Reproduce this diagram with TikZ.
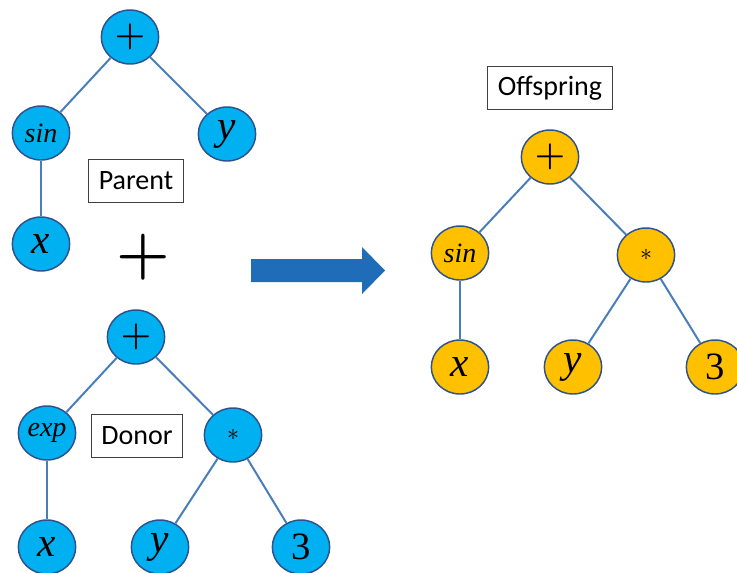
\RequirePackage{fix-cm}
\documentclass[tikz,border=0pt]{standalone}
\usepackage{fontspec}
\setmainfont{Carlito}
\newfontfamily\symfont{Liberation Serif}
\usetikzlibrary{shapes.geometric}
\definecolor{bluefill}{HTML}{00B0F0}
\definecolor{orangefill}{HTML}{FFC000}
\definecolor{rimblue}{HTML}{2F528F}
\definecolor{edgeblue}{HTML}{4A7EBB}
\definecolor{arrowblue}{HTML}{1F6DB8}
\definecolor{boxgray}{HTML}{404040}
\tikzset{
  treenode/.style={ellipse, draw=rimblue, line width=1.1pt, minimum width=43pt,
    minimum height=40.5pt, inner sep=0pt, font=\fontsize{26}{26}\selectfont},
  bluenode/.style={treenode, fill=bluefill},
  orangenode/.style={treenode, fill=orangefill},
  letterlabel/.style={font=\symfont\itshape\fontsize{31}{31}\selectfont},
  digitlabel/.style={font=\symfont\fontsize{29}{29}\selectfont},
  funclabel/.style={font=\symfont\itshape\fontsize{21}{21}\selectfont},
  starlabel/.style={font=\fontsize{18}{18}\selectfont, yshift=-1.5pt},
  treeedge/.style={draw=edgeblue, line width=1.5pt},
  tagbox/.style={draw=boxgray, line width=0.8pt, fill=white, inner xsep=7.5pt,
    minimum height=32pt, font=\fontsize{21}{21}\selectfont},
}
\newcommand{\opplus}{{\boldmath$+$}}
\begin{document}
\begin{tikzpicture}[x=0.75pt, y=-0.75pt]
\useasboundingbox (0,0) rectangle (737,572);

% parent tree
\node[bluenode] (p0) at (130,37) {\opplus};
\node[bluenode, funclabel] (p1) at (41,133) {sin};
\node[bluenode, letterlabel] (p2) at (227,134) {y};
\node[bluenode, letterlabel] (p3) at (41,244) {x};
\draw[treeedge] (p0) -- (p1);
\draw[treeedge] (p0) -- (p2);
\draw[treeedge] (p1) -- (p3);
\node[tagbox] (parent) at (136,181) {Parent};

% combination sign
\node[font=\fontsize{46}{46}\selectfont, inner sep=0pt] (plus) at (143,257) {\opplus};

% donor tree
\node[bluenode] (d0) at (136,337) {\opplus};
\node[bluenode, funclabel] (d1) at (47,433) {exp};
\node[bluenode, starlabel] (d2) at (233,433) {$*$};
\node[bluenode, letterlabel] (d3) at (47,547) {x};
\node[bluenode, letterlabel] (d4) at (160,547) {y};
\node[bluenode, digitlabel] (d5) at (301,547) {3};
\draw[treeedge] (d0) -- (d1);
\draw[treeedge] (d0) -- (d2);
\draw[treeedge] (d1) -- (d3);
\draw[treeedge] (d2) -- (d4);
\draw[treeedge] (d2) -- (d5);
\node[tagbox] (donor) at (137,436) {Donor};

% crossover arrow: block arrow pointing right
\fill[arrowblue] (251,259) -- (362,259) -- (362,247) -- (385,270.5)
  -- (362,294) -- (362,282) -- (251,282) -- cycle;

% offspring tree
\node[tagbox] (offspring) at (550,88) {Offspring};
\node[orangenode] (o0) at (550,157) {\opplus};
\node[orangenode, funclabel] (o1) at (460,253) {sin};
\node[orangenode, starlabel] (o2) at (646,253) {$*$};
\node[orangenode, letterlabel] (o3) at (460,367) {x};
\node[orangenode, letterlabel] (o4) at (573,367) {y};
\node[orangenode, digitlabel] (o5) at (715,367) {3};
\draw[treeedge] (o0) -- (o1);
\draw[treeedge] (o0) -- (o2);
\draw[treeedge] (o1) -- (o3);
\draw[treeedge] (o2) -- (o4);
\draw[treeedge] (o2) -- (o5);
\end{tikzpicture}
\end{document}
